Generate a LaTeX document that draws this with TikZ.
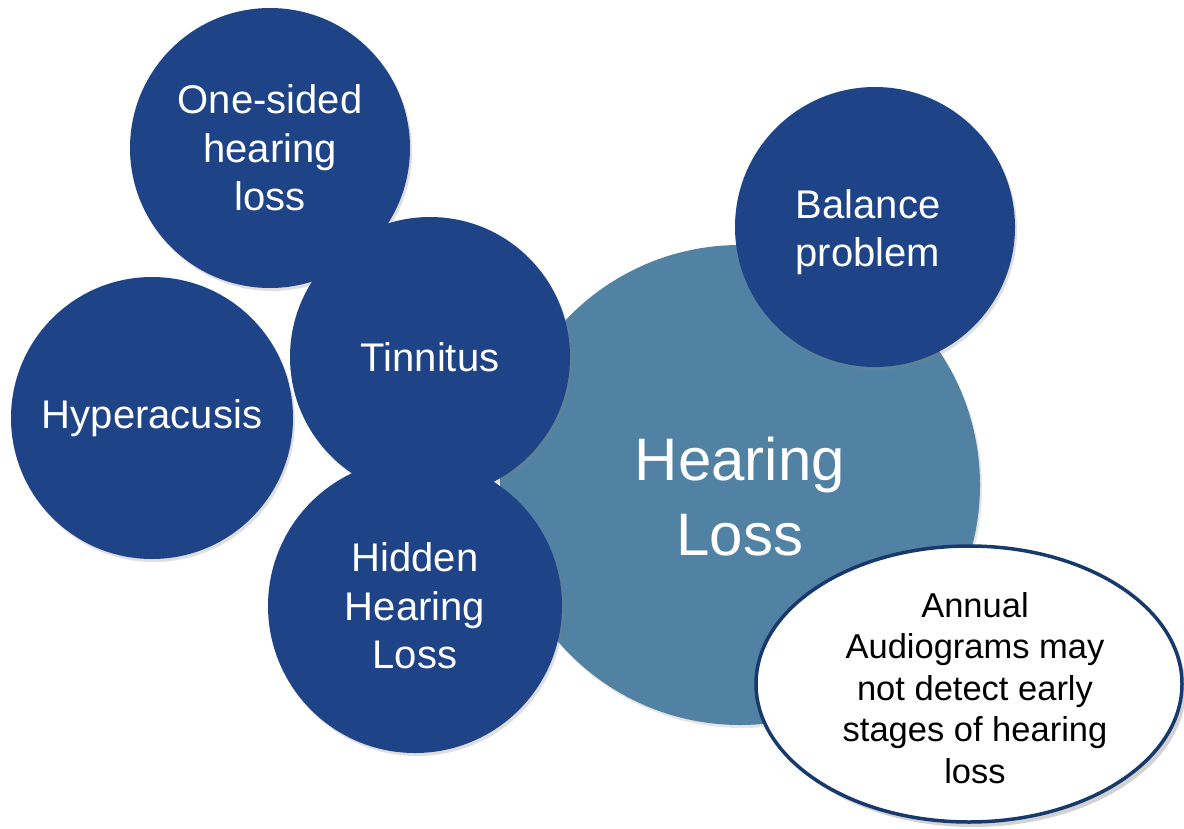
\documentclass[tikz,border=0pt]{standalone}
\usepackage{fontspec}
\setmainfont{Liberation Sans}
\usetikzlibrary{shadows,shapes.geometric}
\definecolor{darkblue}{HTML}{1E4387}
\definecolor{midblue}{HTML}{5282A3}
\definecolor{rimblue}{HTML}{17396B}
\tikzset{
  issue/.style={circle, fill=darkblue, inner sep=0pt, text=white, align=center,
    font=\fontsize{40}{48.5}\selectfont,
    drop shadow={shadow xshift=2pt, shadow yshift=-3pt, opacity=0.25}},
  issuelabel/.style={text=white, align=center, inner sep=0pt,
    font=\fontsize{40}{48.5}\selectfont},
  core/.style={circle, fill=midblue, inner sep=0pt, minimum size=480pt,
    drop shadow={shadow xshift=2pt, shadow yshift=-3pt, opacity=0.2}},
  corelabel/.style={text=white, align=center, font=\fontsize{60}{75}\selectfont},
  note/.style={ellipse, fill=white, draw=rimblue, line width=3.5pt, inner sep=0pt,
    minimum width=426pt, minimum height=276pt,
    drop shadow={shadow xshift=4pt, shadow yshift=-5pt, opacity=0.35}},
  notelabel/.style={align=center, font=\fontsize{34.5}{41.5}\selectfont}
}
\begin{document}
\begin{tikzpicture}[x=1pt,y=-1pt]
\useasboundingbox (0,0) rectangle (1184,828);
\fill[white] (0,0) rectangle (1184,828);
\node[core] (hl) at (740,485) {};
\node[corelabel] (hltext) at (740,497) {Hearing\\Loss};
\node[issue, minimum size=280pt] (bal) at (875,227) {};
\node[issuelabel] (baltext) at (868,232) {Balance\\problem};
\node[issue, minimum size=280pt] (one) at (270,148) {One-sided\\hearing\\loss};
\node[issue, minimum size=282pt] (hyp) at (152,418) {Hyperacusis};
\node[issue, minimum size=280pt] (tin) at (430,357) {Tinnitus};
\node[issue, minimum size=294pt] (hid) at (415,606) {Hidden\\Hearing\\Loss};
\node[note] (ann) at (969,684) {};
\node[notelabel] (anntext) at (975,688) {Annual\\Audiograms may\\not detect early\\stages of hearing\\loss};
\end{tikzpicture}
\end{document}
